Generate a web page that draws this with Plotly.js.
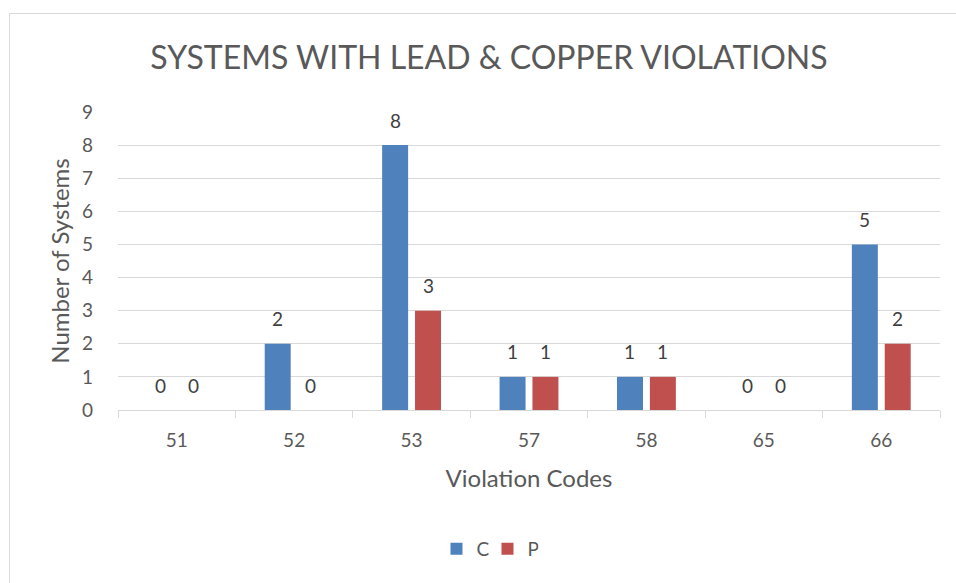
<!DOCTYPE html>
<html>
<head>
<meta charset="utf-8">
<script src="https://cdn.plot.ly/plotly-3.0.1.min.js"></script>
<style>
html,body{margin:0;padding:0;background:#fff;}
#wrap{position:relative;width:956px;height:583px;overflow:hidden;}
#chart{width:956px;height:583px;}
#frame{position:absolute;left:9px;top:13px;width:1200px;height:1200px;border:1px solid #d9d9d9;pointer-events:none;box-sizing:border-box;}
</style>
</head>
<body>
<div id="wrap"><div id="chart"></div><div id="frame"></div></div>
<script>
const categories = ['51', '52', '53', '57', '58', '65', '66'];
const seriesC = [0, 2, 8, 1, 1, 0, 5];
const seriesP = [0, 0, 3, 1, 1, 0, 2];
const yTicks = [0, 1, 2, 3, 4, 5, 6, 7, 8, 9];

const FONT = 'Lato, "Open Sans", sans-serif';
const colC = '#4F81BD', colP = '#C0504D';

const traces = [
  {type: 'bar', name: 'C', x: categories, y: seriesC, marker: {color: colC}, hoverinfo: 'x+y'},
  {type: 'bar', name: 'P', x: categories, y: seriesP, marker: {color: colP}, hoverinfo: 'x+y'}
];

const annotations = [];
[[seriesC, -16.5], [seriesP, 16.5]].forEach(([vals, dx]) => {
  vals.forEach((v, i) => {
    annotations.push({
      x: i, y: v, xref: 'x', yref: 'y', text: String(v), showarrow: false,
      xshift: dx, yshift: 25, xanchor: 'center', yanchor: 'middle',
      font: {family: FONT, size: 19, color: '#404040'}
    });
  });
});

const layout = {
  width: 956, height: 583,
  paper_bgcolor: '#fff', plot_bgcolor: '#fff',
  margin: {l: 118, r: 16, t: 112, b: 173},
  font: {family: FONT, color: '#595959'},
  title: {text: 'SYSTEMS WITH LEAD &amp; COPPER VIOLATIONS', font: {family: FONT, size: 32, color: '#595959'},
          xref: 'container', x: 0.5115, xanchor: 'center', yref: 'container', y: 0.9005, yanchor: 'middle'},
  barmode: 'group', bargap: 0.44, bargroupgap: 0.21,
  xaxis: {
    type: 'category', range: [-0.5, categories.length - 0.5], tickvals: categories, ticktext: categories,
    showline: true, linecolor: '#d9d9d9', linewidth: 1,
    ticks: 'outside', tickson: 'boundaries', ticklen: 7, tickcolor: '#d9d9d9', tickwidth: 1,
    tickfont: {family: FONT, size: 19, color: '#595959'}, tickangle: 0, ticklabelstandoff: 13,
    showgrid: false, zeroline: false, automargin: false,
    title: {text: 'Violation Codes', font: {family: FONT, size: 24, color: '#595959'}, standoff: 20}
  },
  yaxis: {
    range: [0, 9], tickvals: yTicks, ticktext: yTicks.map(String),
    showgrid: true, gridcolor: '#d9d9d9', gridwidth: 1, zeroline: false, showline: false,
    ticks: '', tickfont: {family: FONT, size: 19, color: '#595959'}, ticklabelstandoff: 24,
    automargin: false,
    title: {text: 'Number of Systems', font: {family: FONT, size: 24, color: '#595959'}, standoff: 5}
  },
  legend: {orientation: 'h', x: 0.4495, xanchor: 'center', y: -0.466, yanchor: 'middle',
           font: {family: FONT, size: 19, color: '#595959'}, itemwidth: 30, traceorder: 'normal',
           entrywidth: 6, entrywidthmode: 'pixels'},
  showlegend: true,
  annotations: annotations
};

Plotly.newPlot('chart', traces, layout, {displayModeBar: false, staticPlot: true});
</script>
</body>
</html>
